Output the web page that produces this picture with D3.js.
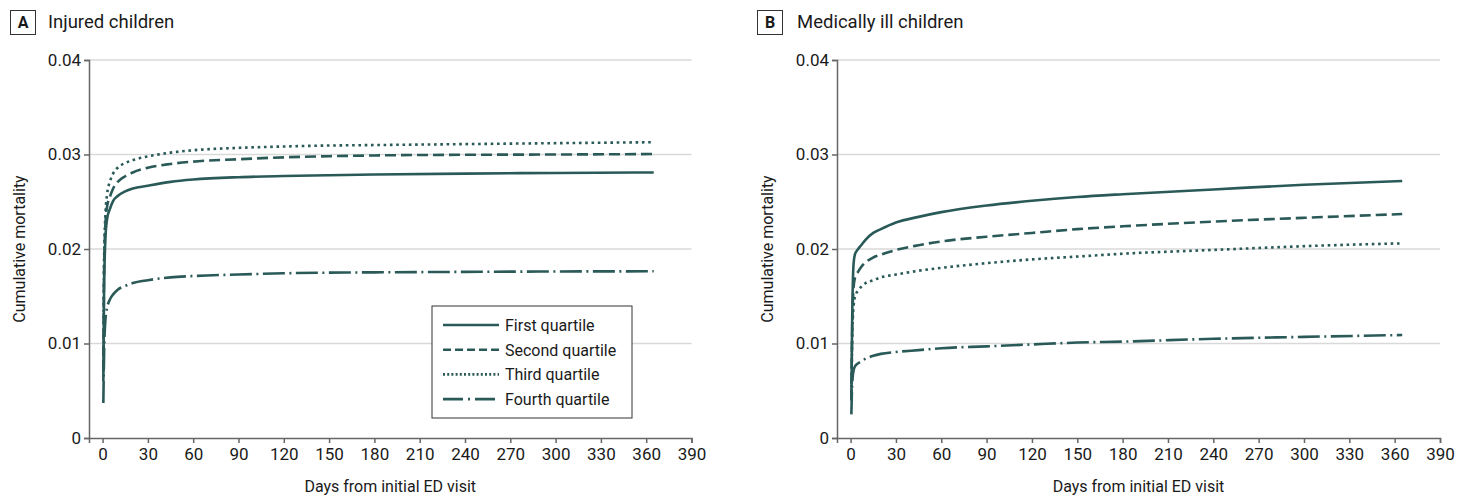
<!DOCTYPE html>
<html>
<head>
<meta charset="utf-8">
<script src="https://cdn.jsdelivr.net/npm/d3@7"></script>
<style>
  body { margin: 0; background: #fff; }
  svg text { font-family: 'Roboto', sans-serif; fill: #1a1a1a; }
</style>
</head>
<body>
<script>
// follow-up days (shared by both panels)
var days = [0.5, 1, 2, 3, 5, 7, 10, 15, 20, 30, 45, 60, 90, 120, 150, 180, 240, 300, 365];

// A: injured children
var injuredFirst  = [0.006, 0.016, 0.0215, 0.0232, 0.0243, 0.0251, 0.0256, 0.0261, 0.0264, 0.0267, 0.0271, 0.02735, 0.0276, 0.02772, 0.0278, 0.02788, 0.02798, 0.02805, 0.0281];
var injuredSecond = [0.007, 0.018, 0.0230, 0.0245, 0.0256, 0.0264, 0.0271, 0.0277, 0.0281, 0.0286, 0.0290, 0.02925, 0.0295, 0.0297, 0.02982, 0.0299, 0.02997, 0.0300, 0.03005];
var injuredThird  = [0.008, 0.019, 0.0240, 0.0258, 0.0272, 0.0280, 0.0286, 0.0291, 0.0294, 0.0298, 0.0302, 0.03045, 0.0307, 0.03085, 0.03095, 0.0310, 0.0311, 0.0312, 0.0313];
var injuredFourth = [0.0037, 0.009, 0.0128, 0.0138, 0.0147, 0.0152, 0.0157, 0.0161, 0.0164, 0.0167, 0.0170, 0.01714, 0.0173, 0.01743, 0.0175, 0.01753, 0.01758, 0.01762, 0.01764];

// B: medically ill children
var illFirst  = [0.004, 0.012, 0.0185, 0.0195, 0.0200, 0.0204, 0.0210, 0.0217, 0.0221, 0.0228, 0.0234, 0.0239, 0.0246, 0.0251, 0.0255, 0.0258, 0.0263, 0.0268, 0.0272];
var illSecond = [0.004, 0.011, 0.0160, 0.0170, 0.0176, 0.0181, 0.0186, 0.0191, 0.0194, 0.0199, 0.0204, 0.0208, 0.0213, 0.0217, 0.0221, 0.0224, 0.0229, 0.0233, 0.0237];
var illThird  = [0.004, 0.010, 0.0140, 0.0150, 0.0156, 0.0160, 0.0164, 0.0167, 0.0170, 0.0173, 0.0177, 0.0180, 0.0185, 0.0189, 0.0192, 0.0195, 0.0199, 0.0203, 0.0206];
var illFourth = [0.0025, 0.0055, 0.0072, 0.0076, 0.0079, 0.0081, 0.0084, 0.0087, 0.0089, 0.0091, 0.0093, 0.0095, 0.0097, 0.0099, 0.0101, 0.0102, 0.0105, 0.0107, 0.0109];

var quartiles = ['First quartile', 'Second quartile', 'Third quartile', 'Fourth quartile'];
var xTicks = d3.range(0, 391, 30);
var yTicks = [0, 0.01, 0.02, 0.03, 0.04];

var dashes = [null, '11,5', '2.6,3.7', '22,4.5,2,4.5'];
var teal = '#2a5a58';

var svg = d3.select('body').append('svg')
  .attr('width', 1470).attr('height', 499);

var panels = [
  { letter: 'A', title: 'Injured children', left: 89, right: 691.5, boxX: 10, textX: 48,
    series: [injuredFirst, injuredSecond, injuredThird, injuredFourth], legend: true },
  { letter: 'B', title: 'Medically ill children', left: 837, right: 1440, boxX: 757, textX: 797,
    series: [illFirst, illSecond, illThird, illFourth], legend: false }
];

var plotTop = 60, plotBottom = 438;

panels.forEach(function(p) {
  var g = svg.append('g');
  var x = d3.scaleLinear().domain([-9, 390]).range([p.left, p.right]);
  var y = d3.scaleLinear().domain([0, 0.04]).range([plotBottom, plotTop]);

  // panel label
  g.append('rect').attr('x', p.boxX + 0.5).attr('y', 10.5).attr('width', 25).attr('height', 24)
    .attr('fill', 'none').attr('stroke', '#333').attr('stroke-width', 1);
  g.append('text').attr('x', p.boxX + 13).attr('y', 28).attr('text-anchor', 'middle')
    .style('font-size', '16px').style('font-weight', 'bold').text(p.letter);
  g.append('text').attr('x', p.textX).attr('y', 28)
    .style('font-size', '18.5px').text(p.title);

  // grid
  g.selectAll('.grid').data(yTicks.slice(1)).enter().append('line')
    .attr('x1', p.left).attr('x2', p.right)
    .attr('y1', d => y(d)).attr('y2', d => y(d))
    .attr('stroke', '#d9d9d9').attr('stroke-width', 1.5);

  // axes
  var yAxis = g.append('g').attr('transform', 'translate(' + p.left + ',0)')
    .call(d3.axisLeft(y).tickValues(yTicks).tickSize(5).tickPadding(3)
      .tickFormat(d => d === 0 ? '0' : d3.format('.2f')(d)));
  var xAxis = g.append('g').attr('transform', 'translate(0,' + plotBottom + ')')
    .call(d3.axisBottom(x).tickValues(xTicks).tickSize(5).tickPadding(5));
  [xAxis, yAxis].forEach(function(a) {
    a.select('.domain').attr('stroke', '#666').attr('stroke-width', 1.5);
    a.selectAll('.tick line').attr('stroke', '#666').attr('stroke-width', 1.5);
    a.selectAll('.tick text').style('font-size', '17px').attr('fill', '#1a1a1a');
  });
  g.selectAll('.tick text').style('font-family', 'Roboto, sans-serif');

  g.append('text').attr('x', (p.left + p.right) / 2).attr('y', 492).attr('text-anchor', 'middle')
    .style('font-size', '16px').text('Days from initial ED visit');
  g.append('text').attr('transform', 'translate(' + (p.left - 64) + ',' + ((plotTop + plotBottom) / 2) + ') rotate(-90)')
    .attr('text-anchor', 'middle').style('font-size', '16px').text('Cumulative mortality');

  // lines
  var line = d3.line().x(d => x(d[0])).y(d => y(d[1])).curve(d3.curveMonotoneX);
  p.series.forEach(function(vals, i) {
    g.append('path').datum(days.map((d, j) => [d, vals[j]]))
      .attr('d', line).attr('fill', 'none').attr('stroke', teal)
      .attr('stroke-width', 2.6).attr('stroke-dasharray', dashes[i]);
  });

  if (p.legend) {
    var lg = g.append('g');
    lg.append('rect').attr('x', 432).attr('y', 306).attr('width', 200).attr('height', 112)
      .attr('fill', '#fff').attr('stroke', '#333').attr('stroke-width', 1);
    quartiles.forEach(function(q, i) {
      var yy = 325 + i * 24.7;
      lg.append('line').attr('x1', 443).attr('x2', 499).attr('y1', yy).attr('y2', yy)
        .attr('stroke', teal).attr('stroke-width', 2.6)
        .attr('stroke-dasharray', [null, '8,4', '2,2.2', '20,5,2,5'][i]);
      lg.append('text').attr('x', 505).attr('y', yy + 6).style('font-size', '16px').text(q);
    });
  }
});
</script>
</body>
</html>
